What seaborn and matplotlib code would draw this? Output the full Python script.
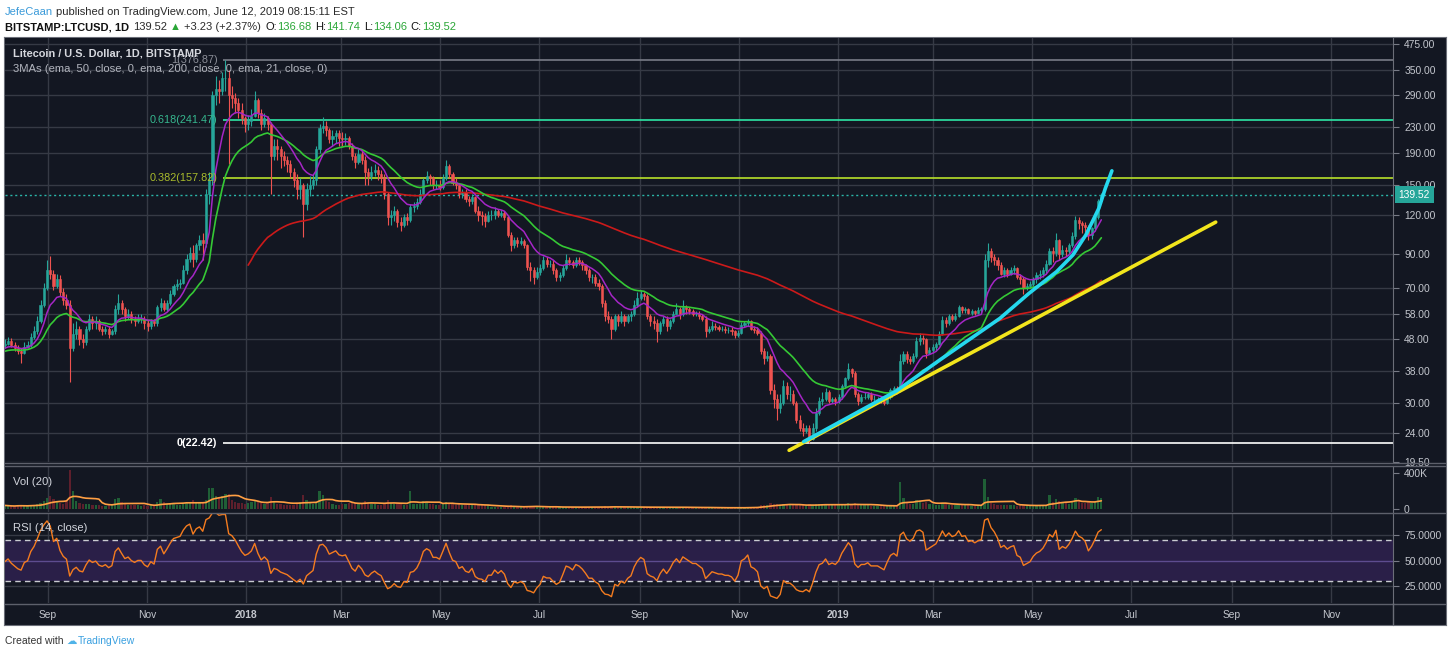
import numpy as np
import pandas as pd
import matplotlib
matplotlib.use('Agg')
import matplotlib.pyplot as plt
import matplotlib.dates as mdates
from matplotlib.lines import Line2D
import seaborn as sns

#======================================================================================
# Data, 2-day bars from 2017-08-05 to 2019-06-12
first_bar = '2017-08-05'
first_open = 46.0

close = [
    46.5, 47.5, 46, 45, 44, 43.5, 45.5, 46, 49, 51, 55, 62, 70, 80,                        # Aug 17
    78, 71, 75, 68, 64, 62, 45, 50, 52, 48, 47, 52, 56, 54, 55,                            # Sep 17
    52, 51, 52, 50, 51, 60, 63, 60, 57, 58, 56, 55, 56, 56, 54,                            # Oct 17
    53, 55, 54, 61, 63, 60, 63, 67, 71, 72, 73, 80, 87, 91, 87,                            # Nov 17
    96, 100, 98, 140, 155, 290, 305, 300, 330, 330, 290, 285, 275, 260, 245, 235,          # Dec 17
    240, 250, 280, 255, 235, 245, 235, 185, 200, 195, 185, 180, 175, 165, 155,             # Jan 18
    145, 150, 130, 145, 150, 155, 195, 228, 232, 225, 210, 215, 220, 212,                  # Feb 18
    210, 212, 200, 185, 178, 188, 180, 165, 160, 165, 168, 162, 158, 140, 118, 120,        # Mar 18
    124, 114, 112, 118, 116, 127, 128, 132, 140, 155, 160, 158, 150, 150, 148,             # Apr 18
    158, 172, 162, 152, 150, 140, 142, 135, 133, 137, 124, 120, 119, 115, 120,             # May 18
    120, 124, 120, 122, 118, 104, 96, 100, 98, 99, 96, 82, 80, 76, 79,                     # Jun 18
    81, 86, 84, 84, 80, 76, 77, 81, 86, 85, 83, 86, 85, 83, 80, 76,                        # Jul 18
    76, 73, 71, 63, 57, 56, 52, 57, 55, 57, 55, 57, 58, 62, 65,                            # Aug 18
    67, 66, 57, 55, 54, 51, 54, 56, 53, 55, 58, 60, 58, 61, 60,                            # Sep 18
    59, 58, 58, 57, 56, 51, 52, 53, 52.5, 52, 52, 51.5, 51.5, 51, 49.5, 50.5,              # Oct 18
    53.5, 54, 55, 52, 51.5, 50.5, 44, 42, 42.5, 33, 31, 29, 30, 34, 32,                    # Nov 18
    32, 30, 26.5, 25, 24.5, 25, 23, 25, 28, 30.5, 31, 32.5, 30.5, 31, 30.5,                # Dec 18
    31.5, 34, 36, 38.5, 37.5, 32, 30.5, 31.5, 31.5, 32, 31, 31, 31, 30.5, 30, 31.5,        # Jan 19
    33, 33.5, 33, 41, 43, 41.5, 41, 42.5, 47.5, 48.5, 48, 43.5, 44.5, 45.5,                # Feb 19
    46.5, 50, 55.5, 54, 57, 56, 57, 61, 59.5, 60, 58.5, 59, 58.5, 59.5, 60,                # Mar 19
    86, 92, 88, 86, 83, 78, 80, 78, 80, 81, 76, 75, 70, 71, 72,                            # Apr 19
    75, 77, 78, 80, 84, 92, 91, 100, 90, 93, 92, 96, 103, 116, 113, 112,                   # May 19
    110, 104, 109, 118, 133, 139.52,                                                       # Jun 19
]

high = [
    48, 49, 48.5, 47, 46, 45, 47, 47.5, 50.5, 53, 57, 64, 73, 86,
    89, 80, 78, 77, 70, 67, 64, 54, 55, 53, 50, 53, 58, 57, 57,
    56, 53, 53, 53, 52, 62, 67, 64, 61, 60, 59, 57, 58, 58, 57,
    55.5, 56, 56, 62, 65, 64, 64, 69, 72, 75, 75, 83, 90, 95, 96,
    98, 104, 105, 145, 165, 300, 335, 325, 345, 376.87, 350, 310, 295, 285, 275, 250,
    252, 262, 300, 285, 262, 255, 250, 238, 210, 210, 200, 192, 185, 180, 170,
    162, 158, 152, 152, 160, 162, 200, 235, 248, 240, 228, 225, 225, 225,
    222, 220, 215, 205, 190, 195, 192, 185, 170, 172, 175, 172, 168, 162, 142, 125,
    128, 126, 118, 121, 122, 130, 132, 136, 145, 158, 166, 163, 160, 155, 155,
    162, 180, 175, 165, 158, 152, 146, 145, 138, 140, 138, 128, 124, 122, 124,
    125, 127, 126, 125, 124, 119, 106, 102, 102, 102, 101, 97, 85, 82, 82,
    84, 89, 88, 86, 86, 81, 79, 83, 90, 88, 86, 88, 88, 86, 84, 81,
    78, 78, 75, 72, 64, 59, 57, 58, 58, 59, 58, 58, 59, 64, 68,
    69, 68, 67, 58, 57, 56, 55, 57, 57, 56, 59, 63, 61, 64, 62,
    61, 60, 59, 59, 58, 57, 53, 55, 54, 53.5, 53, 53, 52.5, 52.5, 51.5, 51.5,
    54.5, 55, 56, 55.5, 53, 52.5, 51, 45, 44, 43, 34.5, 32, 32, 35.5, 35,
    34, 33, 30.5, 27.5, 26, 25.5, 25.5, 26, 29, 31.5, 32.5, 33.5, 33, 31.5, 31.5,
    32, 34.5, 36.5, 40.5, 39, 38, 32.5, 32, 32.5, 32.5, 32.5, 31.8, 31.5, 31.5, 31, 32,
    33.5, 34, 34, 43, 44, 44, 42.5, 43.5, 49, 50.5, 49.5, 48.5, 45.5, 46.5,
    47, 51, 57, 56.5, 58, 58, 58.5, 62, 61.5, 61, 60.5, 60, 59.5, 61, 61,
    90, 98, 94, 90, 88, 85, 82, 81, 82, 83, 82, 78, 76, 73, 74,
    76, 79, 80, 82, 86, 94, 95, 105, 101, 96, 95, 98, 106, 119, 118, 115,
    114, 112, 110, 120, 135, 141.74,
]

low = [
    45, 46, 45.5, 44, 43, 40.5, 43, 45, 45.5, 48, 50, 54, 61, 69,
    75, 69, 70, 66, 62, 60, 35, 44, 48, 46, 45, 46, 51, 52, 52,
    51, 49.5, 50, 48.5, 49.5, 50, 58, 58, 55, 56, 54, 53, 54, 54, 52,
    51, 52, 53, 53, 59, 59, 59, 62, 66, 69, 70, 72, 78, 85, 82,
    85, 93, 86, 95, 130, 150, 270, 275, 290, 300, 175, 265, 255, 245, 235, 222,
    225, 232, 248, 245, 225, 230, 225, 140, 180, 180, 170, 172, 165, 158, 148,
    135, 135, 102, 125, 138, 145, 150, 190, 220, 215, 205, 200, 205, 200,
    200, 202, 195, 180, 170, 175, 175, 150, 150, 155, 160, 155, 152, 135, 112, 112,
    115, 110, 107, 110, 112, 114, 123, 126, 130, 138, 152, 150, 146, 145, 144,
    145, 155, 158, 150, 145, 136, 136, 132, 128, 130, 122, 115, 112, 110, 114,
    116, 117, 118, 118, 116, 102, 92, 94, 95, 96, 94, 80, 74, 72, 75,
    77, 80, 82, 82, 78, 74, 74, 76, 80, 83, 81, 82, 83, 80, 78, 74,
    73, 71, 69, 61, 55, 54, 48, 51, 53, 54, 53, 54, 55, 57, 61,
    64, 64, 56, 53, 52, 47, 50, 53, 51, 52, 54, 58, 56, 57, 58,
    58, 57, 57, 56, 55, 49, 50.5, 51, 51.5, 51, 51, 50.5, 50.5, 49.5, 48.5, 49,
    50, 52.5, 53, 51.5, 50.5, 49.5, 43, 40, 41, 32, 29, 26.5, 28, 29.5, 31,
    30.5, 29.5, 26, 24.5, 23.5, 24, 22.42, 22.8, 24.5, 27.5, 29.5, 30.5, 30, 30, 29.5,
    30, 31, 33.5, 35.5, 36.5, 31.5, 29.5, 30, 31, 31, 30.5, 30.5, 30.5, 30, 29.5, 29.8,
    31, 32.5, 32.5, 32.5, 40, 40.5, 40, 40.5, 42, 46, 46.5, 42, 43, 43.5,
    44, 46, 49.5, 52.5, 53.5, 55, 55, 56.5, 58.5, 58.5, 58, 57.5, 57.5, 58, 58.5,
    59, 82, 85, 83, 80, 77, 76, 76, 77, 78, 75, 72, 67, 69, 70,
    71, 73, 75, 76, 78, 83, 85, 89, 86, 88, 89, 90, 95, 101, 108, 105,
    106, 100, 101, 107, 117, 131,
]

# daily volume, thousands
volume_k = [
    40, 35, 30, 30, 45, 40, 30, 35, 50, 45, 60, 70, 90, 120,                               # Aug 17
    150, 110, 80, 70, 60, 90, 430, 200, 90, 70, 60, 55, 60, 50, 45,                        # Sep 17
    40, 35, 35, 40, 45, 110, 120, 80, 60, 50, 45, 40, 40, 35, 40,                          # Oct 17
    35, 40, 35, 80, 110, 80, 60, 65, 70, 50, 45, 60, 70, 80, 100,                          # Nov 17
    80, 70, 70, 100, 230, 230, 150, 130, 150, 170, 170, 100, 80, 70, 65, 60,               # Dec 17
    70, 75, 100, 85, 70, 60, 70, 130, 85, 60, 55, 50, 42, 42, 50,                          # Jan 18
    70, 75, 160, 100, 75, 60, 70, 200, 160, 90, 75, 60, 50, 50,                            # Feb 18
    60, 60, 70, 80, 70, 60, 60, 90, 70, 60, 55, 50, 50, 70, 100, 70,                       # Mar 18
    60, 70, 60, 50, 50, 200, 60, 55, 60, 90, 80, 60, 55, 50, 50,                           # Apr 18
    60, 80, 60, 55, 50, 60, 45, 45, 40, 40, 50, 45, 40, 40, 40,                            # May 18
    25, 25, 20, 20, 20, 35, 40, 28, 25, 20, 20, 35, 30, 30, 28,                            # Jun 18
    22, 22, 20, 20, 20, 22, 20, 20, 26, 22, 20, 20, 20, 20, 20, 22,                        # Jul 18
    20, 20, 20, 26, 30, 24, 33, 26, 20, 20, 17, 17, 17, 20, 23,                            # Aug 18
    23, 20, 26, 23, 20, 23, 20, 17, 17, 17, 20, 23, 20, 20, 17,                            # Sep 18
    17, 14, 14, 14, 14, 23, 17, 14, 14, 12, 12, 12, 12, 12, 14, 14,                        # Oct 18
    20, 20, 22, 20, 18, 20, 50, 45, 40, 70, 60, 55, 45, 55, 45,                            # Nov 18
    40, 40, 45, 40, 40, 35, 55, 45, 55, 60, 50, 55, 45, 40, 40,                            # Dec 18
    40, 45, 55, 70, 60, 65, 45, 40, 40, 40, 35, 35, 35, 35, 35, 38,                        # Jan 19
    35, 35, 35, 300, 120, 65, 55, 55, 95, 80, 70, 80, 60, 55,                              # Feb 19
    40, 50, 70, 55, 50, 45, 45, 55, 45, 40, 40, 35, 35, 35, 35,                            # Mar 19
    330, 130, 70, 60, 50, 45, 45, 40, 40, 40, 35, 50, 45, 35, 35,                          # Apr 19
    35, 40, 40, 40, 50, 160, 80, 110, 90, 80, 70, 60, 80, 120, 90, 70,                     # May 19
    70, 80, 70, 80, 130, 120,                                                              # Jun 19
]

assert len(close) == len(high) == len(low) == len(volume_k) == 339

# moving average start values read at their first visible point
ema21_seed = 45.0
ema50_seed = 44.0
ema200_seed = 83.0
ema200_first_bar = 75
rsi_seed_gain, rsi_seed_loss = 1.0, 1.1

# fibonacci drawing
fib_start = '2017-12-18'
fib_names = ['1', '0.618', '0.382', '0']
fib_prices = [376.87, 241.47, 157.82, 22.42]
fib_line_colors = ['#787b86', '#2ee6a6', '#b8e02a', '#ffffff']
fib_text_colors = ['#8c8f99', '#36b88f', '#a9bb2c', '#ffffff']

# trend drawings
cyan_dates = ['2018-12-11', '2019-02-06', '2019-03-05', '2019-04-11', '2019-04-29', '2019-05-16',
              '2019-05-26', '2019-06-03', '2019-06-07', '2019-06-11', '2019-06-15', '2019-06-19']
cyan_prices = [22.6, 32.8, 41.3, 56.1, 67.5, 79.2, 89.5, 103.8, 114.5, 126.4, 146.5, 166.4]
yellow_dates = ['2018-12-02', '2019-08-22']
yellow_prices = [21.2, 114.0]

last_price = 139.52
price_ticks = [424, 350, 290, 230, 190, 150, 120, 90, 70, 58, 48, 38, 30, 24, 19.5]
price_labels = ['475.00', '350.00', '290.00', '230.00', '190.00', '150.00', '120.00', '90.00',
                '70.00', '58.00', '48.00', '38.00', '30.00', '24.00', '19.50']
month_ticks = ['2017-09-01', '2017-11-01', '2018-01-01', '2018-03-01', '2018-05-01', '2018-07-01',
               '2018-09-01', '2018-11-01', '2019-01-01', '2019-03-01', '2019-05-01', '2019-07-01',
               '2019-09-01', '2019-11-01']
month_labels = ['Sep', 'Nov', '2018', 'Mar', 'May', 'Jul', 'Sep', 'Nov', '2019', 'Mar', 'May', 'Jul', 'Sep', 'Nov']
#======================================================================================

#======================================================================================
# Indicators
n = len(close)
opens = [first_open] + close[:-1]
dates = pd.date_range(first_bar, periods=n, freq='2D')
xs = mdates.date2num(dates) + 0.5

def ema(values, span_days, seed, start=0):
    a = 1 - (1 - 2 / (span_days + 1)) ** 2      # per 2-day bar
    out = np.full(len(values), np.nan)
    e = seed
    out[start] = e
    for i in range(start + 1, len(values)):
        e = e + a * (values[i] - e)
        out[i] = e
    return out

ema21 = ema(close, 21, ema21_seed)
ema50 = ema(close, 50, ema50_seed)
ema200 = ema(close, 200, ema200_seed, ema200_first_bar)

rsi = np.empty(n)
g, l = rsi_seed_gain, rsi_seed_loss
prev = first_open
for i, c in enumerate(close):
    d = c - prev
    g = g + (max(d, 0) - g) / 10
    l = l + (max(-d, 0) - l) / 10
    rsi[i] = 100 - 100 / (1 + g / l)
    prev = c

vol_ma = pd.Series(volume_k).rolling(10, min_periods=1).mean().values
up = np.array(close) >= np.array(opens)
#======================================================================================

#======================================================================================
# Figure
sns.set_style('dark')
W, H = 1450, 657
BG = '#131722'
GRID = '#363a45'
AXTXT = '#c3c6cd'
UI = ['Liberation Sans', 'DejaVu Sans']
HEAD = ['Liberation Sans', 'DejaVu Sans']
plt.rcParams['font.family'] = HEAD

fig = plt.figure(figsize=(W / 100, H / 100), dpi=100, facecolor='white')

def px_axes(x0, y0, x1, y1, **kw):
    return fig.add_axes([x0 / W, 1 - y1 / H, (x1 - x0) / W, (y1 - y0) / H], **kw)

bg = px_axes(4, 37, 1446, 625)
bg.set_facecolor(BG)
bg.set_xticks([]); bg.set_yticks([])
for s in bg.spines.values():
    s.set_color('#6b6e78')

ax = px_axes(5, 38, 1393, 462)
axv = px_axes(5, 466, 1393, 512, sharex=ax)
axr = px_axes(5, 514, 1393, 603, sharex=ax)

jan18 = mdates.date2num(pd.Timestamp('2018-01-01'))
month_x = mdates.date2num(pd.to_datetime(month_ticks))
for a in (ax, axv, axr):
    a.set_facecolor(BG)
    for s in ['top', 'left', 'bottom']:
        a.spines[s].set_visible(False)
    a.spines['right'].set_color('#6b6e78')
    a.set_xlim(jan18 - 148.4, jan18 + 707.3)
    a.set_xticks(month_x)
    a.grid(True, axis='x', color=GRID, lw=1)
    a.set_axisbelow(True)
    a.yaxis.tick_right()
    a.tick_params(axis='y', direction='out', length=4, width=0.8, color='#787b86', pad=4,
                  labelsize=7.4, labelcolor=AXTXT, labelfontfamily=UI)
    a.set_xlabel(''); a.set_ylabel('')

# ---- price pane
ax.set_yscale('log')
ax.set_ylim(19.45, 443)
ax.set_yticks(price_ticks)
ax.set_yticklabels(price_labels)
ax.minorticks_off()
ax.grid(True, axis='y', color=GRID, lw=1)
ax.tick_params(axis='x', labelbottom=False, length=0)

col = np.where(up, '#26a69a', '#ef5350')
ax.vlines(xs, low, high, colors=col, lw=0.8, zorder=3)
bot = np.minimum(close, opens)
hgt = np.abs(np.array(close) - np.array(opens))
ax.bar(xs, hgt, bottom=bot, width=1.3, color=col, edgecolor=col, linewidth=0.4, zorder=4)

sns.lineplot(x=xs[ema200_first_bar:], y=ema200[ema200_first_bar:], ax=ax, color='#cc1a1a', lw=1.2,
             estimator=None, legend=False, zorder=5)
sns.lineplot(x=xs, y=ema50, ax=ax, color='#35c935', lw=1.2, estimator=None, legend=False, zorder=5)
sns.lineplot(x=xs, y=ema21, ax=ax, color='#a526c6', lw=1.1, estimator=None, legend=False, zorder=5)

fx = mdates.date2num(pd.Timestamp(fib_start))
for name, p, lc, tc in zip(fib_names, fib_prices, fib_line_colors, fib_text_colors):
    ax.hlines(p, fx, jan18 + 707.3, colors=lc, lw=1.2, zorder=2)
    ax.annotate(f'{name}({p:.2f})', xy=(fx, p), xytext=(-4, 0), textcoords='offset points',
                ha='right', va='center', color=tc, fontsize=7.8, family=UI,
                fontweight='bold' if name == '0' else 'normal', zorder=6)

ax.axhline(last_price, color='#2bb5a8', lw=1, ls=(0, (1.5, 2)), zorder=2)

yx = mdates.date2num(pd.to_datetime(yellow_dates))
sns.lineplot(x=yx, y=yellow_prices, ax=ax, color='#f2e51c', lw=2.6, estimator=None, sort=False,
             legend=False, zorder=7)
cx = mdates.date2num(pd.to_datetime(cyan_dates))
sns.lineplot(x=cx, y=cyan_prices, ax=ax, color='#25d8ee', lw=2.6, estimator=None, sort=False,
             legend=False, zorder=8)

ax.annotate(f'{last_price:.2f}', xy=(1, last_price), xycoords=('axes fraction', 'data'),
            xytext=(4, 0), textcoords='offset points', ha='left', va='center', color='white',
            fontsize=7.4, family=UI, annotation_clip=False,
            bbox=dict(boxstyle='square,pad=0.35', fc='#26a69a', ec='none'))

ax.text(0.006, 0.964, 'Litecoin / U.S. Dollar, 1D, BITSTAMP', transform=ax.transAxes, color='#d6d8de',
        fontsize=7.9, family=UI, fontweight='bold', va='center', zorder=9)
ax.text(0.006, 0.926, '3MAs (ema, 50, close, 0, ema, 200, close, 0, ema, 21, close, 0)',
        transform=ax.transAxes, color='#b2b5be', fontsize=8.1, family=UI, va='center', zorder=9)

# ---- volume pane
vcol = np.where(up, '#1f5f36', '#5e1f2c')
axv.bar(xs, volume_k, width=1.4, color=vcol, linewidth=0, zorder=2)
sns.lineplot(x=xs, y=vol_ma, ax=axv, color='#ff9f43', lw=1.2, estimator=None, legend=False, zorder=3)
axv.set_ylim(-33, 478)
axv.set_yticks([0, 400])
axv.set_yticklabels(['0', '400K'])
axv.tick_params(axis='x', labelbottom=False, length=0)
axv.text(0.006, 0.65, 'Vol (20)', transform=axv.transAxes, color='#d1d4dc', fontsize=8.1, family=UI,
         va='center')

# ---- RSI pane
axr.axhspan(30, 70, color='#2a1f48', lw=0, zorder=1)
axr.axhline(50, color='#5d4c8f', lw=1, zorder=2)
axr.axhline(70, color='#c9cbd1', lw=1, ls=(0, (4, 3)), zorder=2)
axr.axhline(30, color='#c9cbd1', lw=1, ls=(0, (4, 3)), zorder=2)
sns.lineplot(x=xs, y=rsi, ax=axr, color='#f57c1f', lw=1, estimator=None, legend=False, zorder=3)
axr.set_ylim(8.2, 96.1)
axr.set_yticks([25, 50, 75])
axr.set_yticklabels(['25.0000', '50.0000', '75.0000'])
axr.grid(True, axis='y', color=GRID, lw=1)
axr.set_xticklabels(month_labels)
for lab in axr.get_xticklabels():
    lab.set_fontfamily(UI)
    if lab.get_text() in ('2018', '2019'):
        lab.set_fontweight('bold')
axr.tick_params(axis='x', length=0, pad=5, labelsize=7.4, labelcolor=AXTXT)
axr.text(0.006, 0.84, 'RSI (14, close)', transform=axr.transAxes, color='#d1d4dc', fontsize=8.1,
         family=UI, va='center')

# pane separators
for yy in (462.5, 465.5, 513, 603.5):
    fig.add_artist(Line2D([5 / W, 1445 / W], [1 - yy / H, 1 - yy / H], color='#5d606b', lw=1))
fig.add_artist(Line2D([1393 / W, 1393 / W], [1 - 603 / H, 1 - 625 / H], color='#6b6e78', lw=1))

#======================================================================================
# Header and footer
renderer = fig.canvas.get_renderer()

def text_run(y_px, parts, size):
    xpos = 5
    for gap, s, color, weight, fam in parts:
        xpos += gap
        t = fig.text(xpos / W, 1 - y_px / H, s, fontsize=size, color=color, fontweight=weight,
                     family=fam, ha='left', va='center')
        xpos = t.get_window_extent(renderer=renderer).x1

BLUE = '#3a9ad9'
GREEN = '#2aa637'
DARK = '#2a2a2a'
text_run(12, [(0, 'JefeCaan', BLUE, 'normal', HEAD),
              (3, 'published on TradingView.com, June 12, 2019 08:15:11 EST', DARK, 'normal', HEAD)], 8)
text_run(27, [(0, 'BITSTAMP:LTCUSD, 1D', '#111111', 'bold', HEAD),
              (4, '139.52', DARK, 'normal', HEAD),
              (3, '\u25b2', GREEN, 'normal', HEAD),
              (3, '+3.23 (+2.37%)', DARK, 'normal', HEAD),
              (4, 'O:', '#111111', 'normal', HEAD), (0, '136.68', GREEN, 'normal', HEAD),
              (4, 'H:', '#111111', 'normal', HEAD), (0, '141.74', GREEN, 'normal', HEAD),
              (4, 'L:', '#111111', 'normal', HEAD), (0, '134.06', GREEN, 'normal', HEAD),
              (4, 'C:', '#111111', 'normal', HEAD), (0, '139.52', GREEN, 'normal', HEAD)], 8)
text_run(641, [(0, 'Created with', '#333333', 'normal', UI),
               (3, '\u2601', '#4fb3e8', 'normal', ['DejaVu Sans']),
               (1, 'TradingView', '#3aa0e0', 'normal', UI)], 7.5)

fig.savefig('out.png', dpi=100, facecolor='white')
